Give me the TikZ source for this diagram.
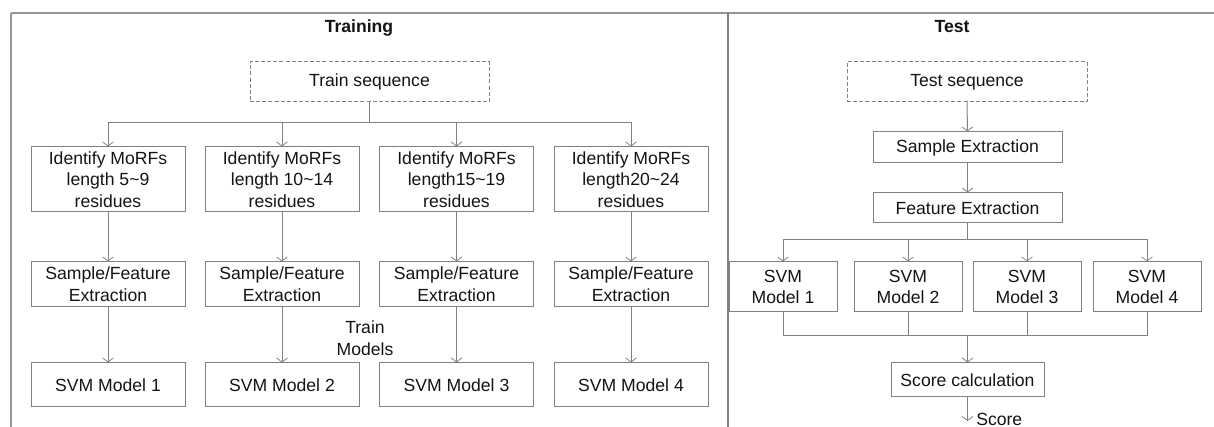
\documentclass[tikz,border=0pt]{standalone}
\usepackage{fontspec}
\setmainfont{Liberation Sans}
\usetikzlibrary{arrows.meta}
\definecolor{ln}{RGB}{128,128,128}
\definecolor{fr}{RGB}{150,150,150}
\definecolor{tx}{RGB}{20,20,20}
\begin{document}
\begin{tikzpicture}[x=0.75pt,y=-0.75pt,
  font=\fontsize{13.2pt}{16.3pt}\selectfont, text=tx,
  box/.style={draw=ln, line width=0.75pt, inner sep=0pt, align=center},
  seqbox/.style={box, dash pattern=on 3pt off 1.6pt},
  arr/.style={draw=ln, line width=0.75pt, -{Straight Barb[length=3pt,width=8pt,line width=0.6pt]}},
  con/.style={draw=ln, line width=0.75pt},
  title/.style={font=\fontsize{13.2pt}{16.3pt}\selectfont\bfseries}]
\useasboundingbox (0,0) rectangle (1214,427);

% frame
\draw[fr, line width=0.9pt] (11,13) -- (1214,13);
\draw[fr, line width=0.9pt] (11,13) -- (11,427);
\draw[ln, line width=0.9pt] (728,13) -- (728,427);

% titles
\node[title] (ttrain) at (359,28) {Training};
\node[title] (ttest) at (952,27) {Test};

% ---- training ----
\node[seqbox, minimum width=179.25pt, minimum height=30pt] (ts) at (369.5,82) {Train sequence};
\foreach \i/\x/\a in {1/108/5\char`~9, 2/282/10\char`~14} {
  \node[box, minimum width=115.5pt, minimum height=48.75pt] (id\i) at (\x,179.5)
    {Identify MoRFs\\length \a\\residues};
}
\node[box, minimum width=115.5pt, minimum height=48.75pt] (id3) at (456.5,179.5)
  {Identify MoRFs\\length15\char`~19\\residues};
\node[box, minimum width=115.5pt, minimum height=48.75pt] (id4) at (631,179.5)
  {Identify MoRFs\\length20\char`~24\\residues};
\foreach \i/\x in {1/108,2/282,3/456.5,4/631} {
  \node[box, minimum width=115.5pt, minimum height=33.75pt] (sf\i) at (\x,284.5)
    {Sample/Feature\\Extraction};
  \node[box, minimum width=115.5pt, minimum height=33pt] (sm\i) at (\x,385)
    {SVM Model \i};
}
\coordinate (tb) at (369.5,123);
\draw[con] (ts.south) -- (tb);
\foreach \i in {1,...,4} {
  \draw[arr] (tb) -| (id\i.north);
  \draw[arr] (id\i.south) -- (sf\i.north);
  \draw[arr] (sf\i.south) -- (sm\i.north);
}
\node[align=center] (tm) at (365,338) {Train\\Models};

% ---- test ----
\node[seqbox, minimum width=180pt, minimum height=30pt] (es) at (967,82) {Test sequence};
\node[box, minimum width=141.75pt, minimum height=23.25pt] (se) at (967.5,147.5) {Sample Extraction};
\node[box, minimum width=141.75pt, minimum height=22.5pt] (fe) at (967.5,208) {Feature Extraction};
\foreach \i/\x in {1/783,2/908,3/1027,4/1147} {
  \node[box, minimum width=81pt, minimum height=37.5pt] (sv\i) at (\x,287) {SVM\\Model \i};
}
\node[box, minimum width=114.75pt, minimum height=25.5pt] (sc) at (967.5,380) {Score calculation};
\draw[arr] (es.south) -- (se.north);
\draw[arr] (se.south) -- (fe.north);
\coordinate (fb) at (967.5,240);
\coordinate (mb) at (967.5,336);
\draw[con] (fe.south) -- (fb);
\foreach \i in {1,...,4} {
  \draw[arr] (fb) -| (sv\i.north);
  \draw[con] (sv\i.south) |- (mb);
}
\draw[arr] (mb) -- (sc.north);
\coordinate (so) at (967.5,421);
\draw[arr] (sc.south) -- (so);
\node[anchor=base west, inner sep=0pt] (score) at (976,425.5) {Score};
\end{tikzpicture}
\end{document}
